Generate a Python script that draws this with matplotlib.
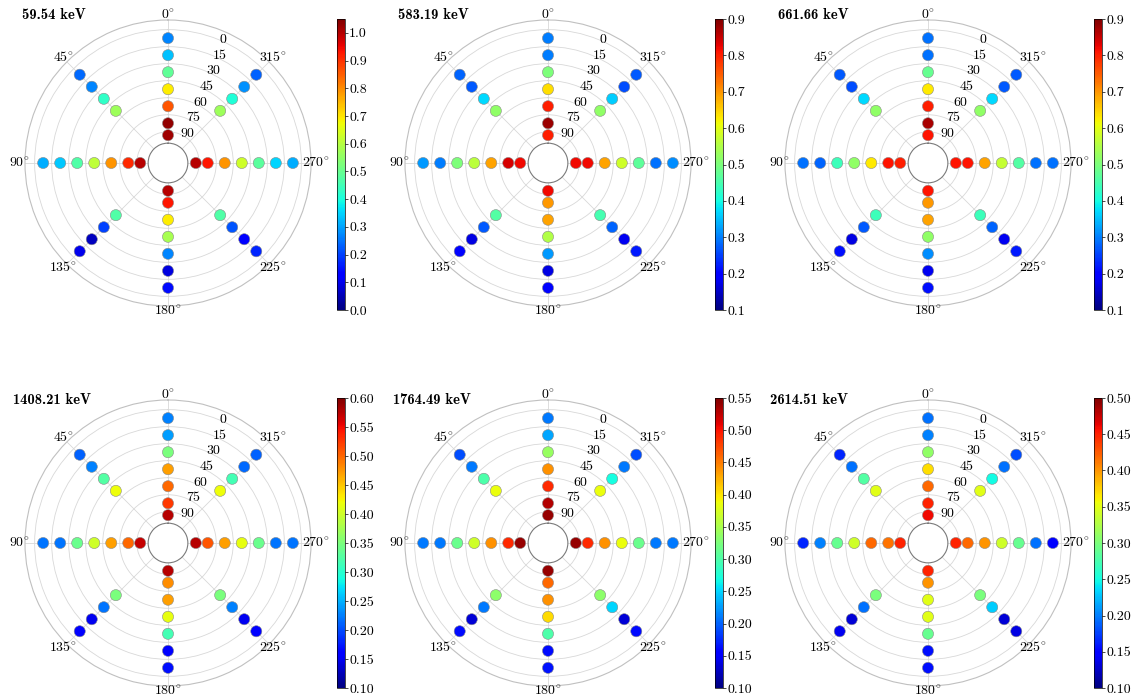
import numpy as np
import matplotlib
matplotlib.use("Agg")
import matplotlib.pyplot as plt

plt.rcParams['font.family'] = 'serif'
plt.rcParams['font.serif'] = ['cmr10']
plt.rcParams['mathtext.fontset'] = 'cm'
plt.rcParams['axes.formatter.use_mathtext'] = True

# kierunki i katy elewacji
azim_card = [0, 90, 180, 270]
azim_diag = [45, 135, 225, 315]
elev_card = [0, 15, 30, 45, 60, 75, 90]
elev_diag = [0, 15, 30, 45]

energies = ["59.54", "583.19", "661.66", "1408.21", "1764.49", "2614.51"]
vmins = [0.0, 0.1, 0.1, 0.10, 0.10, 0.10]
vmaxs = [1.05, 0.9, 0.9, 0.60, 0.55, 0.50]
cbar_step = [0.1, 0.1, 0.1, 0.05, 0.05, 0.05]
cbar_fmt = ['%.1f', '%.1f', '%.1f', '%.2f', '%.2f', '%.2f']

# wartosci: wiersze = azymuty (0, 90, 180, 270), kolumny = elewacje 0..90
val_59_card = [[0.27, 0.33, 0.49, 0.69, 0.86, 1.03, 1.02],
               [0.31, 0.34, 0.47, 0.61, 0.79, 0.91, 1.00],
               [0.14, 0.09, 0.27, 0.58, 0.69, 0.93, 1.00],
               [0.31, 0.35, 0.48, 0.63, 0.79, 0.93, 1.00]]
val_59_diag = [[0.24, 0.27, 0.43, 0.57],
               [0.10, 0.06, 0.20, 0.47],
               [0.17, 0.12, 0.22, 0.47],
               [0.23, 0.28, 0.41, 0.57]]

val_583_card = [[0.30, 0.30, 0.50, 0.64, 0.80, 0.88, 0.80],
                [0.32, 0.30, 0.50, 0.56, 0.69, 0.84, 0.82],
                [0.20, 0.17, 0.32, 0.55, 0.69, 0.70, 0.82],
                [0.31, 0.29, 0.47, 0.58, 0.69, 0.82, 0.82]]
val_583_diag = [[0.28, 0.27, 0.37, 0.52],
                [0.20, 0.17, 0.27, 0.46],
                [0.22, 0.18, 0.28, 0.45],
                [0.27, 0.26, 0.36, 0.52]]

val_661_card = [[0.29, 0.29, 0.48, 0.63, 0.80, 0.87, 0.81],
                [0.29, 0.28, 0.44, 0.52, 0.63, 0.81, 0.80],
                [0.21, 0.18, 0.31, 0.52, 0.69, 0.70, 0.81],
                [0.29, 0.29, 0.46, 0.57, 0.69, 0.81, 0.81]]
val_661_diag = [[0.27, 0.26, 0.37, 0.52],
                [0.21, 0.17, 0.27, 0.44],
                [0.22, 0.18, 0.28, 0.44],
                [0.27, 0.27, 0.37, 0.52]]

val_1408_card = [[0.225, 0.24, 0.35, 0.47, 0.50, 0.525, 0.575],
                 [0.22, 0.22, 0.34, 0.40, 0.47, 0.50, 0.57],
                 [0.17, 0.16, 0.315, 0.415, 0.47, 0.48, 0.575],
                 [0.22, 0.22, 0.34, 0.415, 0.47, 0.51, 0.575]]
val_1408_diag = [[0.21, 0.225, 0.325, 0.42],
                 [0.16, 0.15, 0.22, 0.35],
                 [0.16, 0.15, 0.225, 0.35],
                 [0.21, 0.215, 0.315, 0.42]]

val_1764_card = [[0.21, 0.23, 0.34, 0.44, 0.49, 0.53, 0.54],
                 [0.21, 0.21, 0.315, 0.37, 0.44, 0.49, 0.54],
                 [0.165, 0.16, 0.30, 0.405, 0.44, 0.46, 0.54],
                 [0.21, 0.21, 0.315, 0.385, 0.44, 0.49, 0.54]]
val_1764_diag = [[0.19, 0.21, 0.30, 0.385],
                 [0.16, 0.135, 0.21, 0.335],
                 [0.16, 0.135, 0.25, 0.335],
                 [0.19, 0.21, 0.27, 0.385]]

val_2614_card = [[0.195, 0.20, 0.31, 0.37, 0.42, 0.45, 0.46],
                 [0.165, 0.20, 0.29, 0.34, 0.42, 0.415, 0.45],
                 [0.155, 0.155, 0.29, 0.35, 0.35, 0.40, 0.45],
                 [0.15, 0.195, 0.29, 0.34, 0.40, 0.42, 0.45]]
val_2614_diag = [[0.165, 0.195, 0.28, 0.35],
                 [0.14, 0.13, 0.195, 0.30],
                 [0.135, 0.13, 0.23, 0.30],
                 [0.18, 0.195, 0.25, 0.35]]

card_vals = [val_59_card, val_583_card, val_661_card, val_1408_card, val_1764_card, val_2614_card]
diag_vals = [val_59_diag, val_583_diag, val_661_diag, val_1408_diag, val_1764_diag, val_2614_diag]

ZENITH_R = 4.5  # punkt 90 deg odsuniety od otworu


def elev_to_r(e):
    return np.maximum(90.0 - np.asarray(e, dtype=float), ZENITH_R)


fig = plt.figure(figsize=(11.35, 6.96), dpi=100)

col_left = [25, 405, 785]
row_top = [20, 400]
cbar_left = [337, 715, 1094]
cbar_y = [(19, 310), (398, 688)]
title_xy = [(22, 15), (398, 15), (778, 15), (13, 400), (393, 400), (770, 400)]
W, H = 1135.0, 696.0
size = 286.0

rticks = [7.5, 22.5, 37.5, 52.5, 67.5, 82.5, 97.5]
rlabels = ['90', '75', '60', '45', '30', '15', '0']
theta_ticks = list(range(0, 360, 45))
R_THETA_LABEL = 110.5  # tuz za zewnetrznym okregiem

for i in range(6):
    row, col = divmod(i, 3)
    x0 = col_left[col]
    y0 = row_top[row]
    ax = fig.add_axes([x0 / W, 1 - (y0 + size) / H, size / W, size / H], projection='polar')
    ax.set_theta_zero_location('N')
    ax.set_theta_direction(1)
    ax.set_rorigin(-20)
    ax.set_ylim(-2.5, 106)

    th, rr, cc = [], [], []
    for a, row_vals in zip(azim_card, card_vals[i]):
        th += [np.deg2rad(a)] * len(elev_card)
        rr += list(elev_to_r(elev_card))
        cc += row_vals
    for a, row_vals in zip(azim_diag, diag_vals[i]):
        th += [np.deg2rad(a)] * len(elev_diag)
        rr += list(elev_to_r(elev_diag))
        cc += row_vals

    sc = ax.scatter(th, rr, c=cc, cmap='jet', vmin=vmins[i], vmax=vmaxs[i],
                    s=64, edgecolors='#8a8a8a', linewidths=0.4, zorder=3)

    ax.set_thetagrids(theta_ticks, labels=[''] * len(theta_ticks))
    for a in theta_ticks:
        ax.text(np.deg2rad(a), R_THETA_LABEL, r'$%d^{\!\circ}$' % a,
                ha='center', va='center', fontsize=10)
    ax.set_rticks(rticks)
    ax.set_yticklabels([''] * len(rticks))
    for r, lab in zip(rticks, rlabels):
        ax.text(np.deg2rad(-22.5), r, lab, ha='left', va='center', fontsize=10)
    ax.grid(color='#d8d8d8', linewidth=0.6)
    ax.spines['polar'].set_color('#c0c0c0')
    ax.spines['polar'].set_linewidth(0.8)
    ax.spines['inner'].set_color('#7a7a7a')
    ax.spines['inner'].set_linewidth(0.8)

    cy0, cy1 = cbar_y[row]
    cax = fig.add_axes([cbar_left[col] / W, 1 - cy1 / H, 8 / W, (cy1 - cy0) / H])
    ticks = np.arange(vmins[i], min(vmaxs[i], 1.0) + 1e-9, cbar_step[i])
    cb = fig.colorbar(sc, cax=cax, ticks=ticks, format=cbar_fmt[i])
    cb.ax.tick_params(labelsize=10, length=2, width=0.5, pad=1)
    cb.outline.set_linewidth(0.5)

    tx, ty = title_xy[i]
    fig.text(tx / W, 1 - ty / H, '%s keV' % energies[i], family=['cmb10'],
             ha='left', va='center', fontsize=10.5)

fig.savefig('out.png', dpi=100)
